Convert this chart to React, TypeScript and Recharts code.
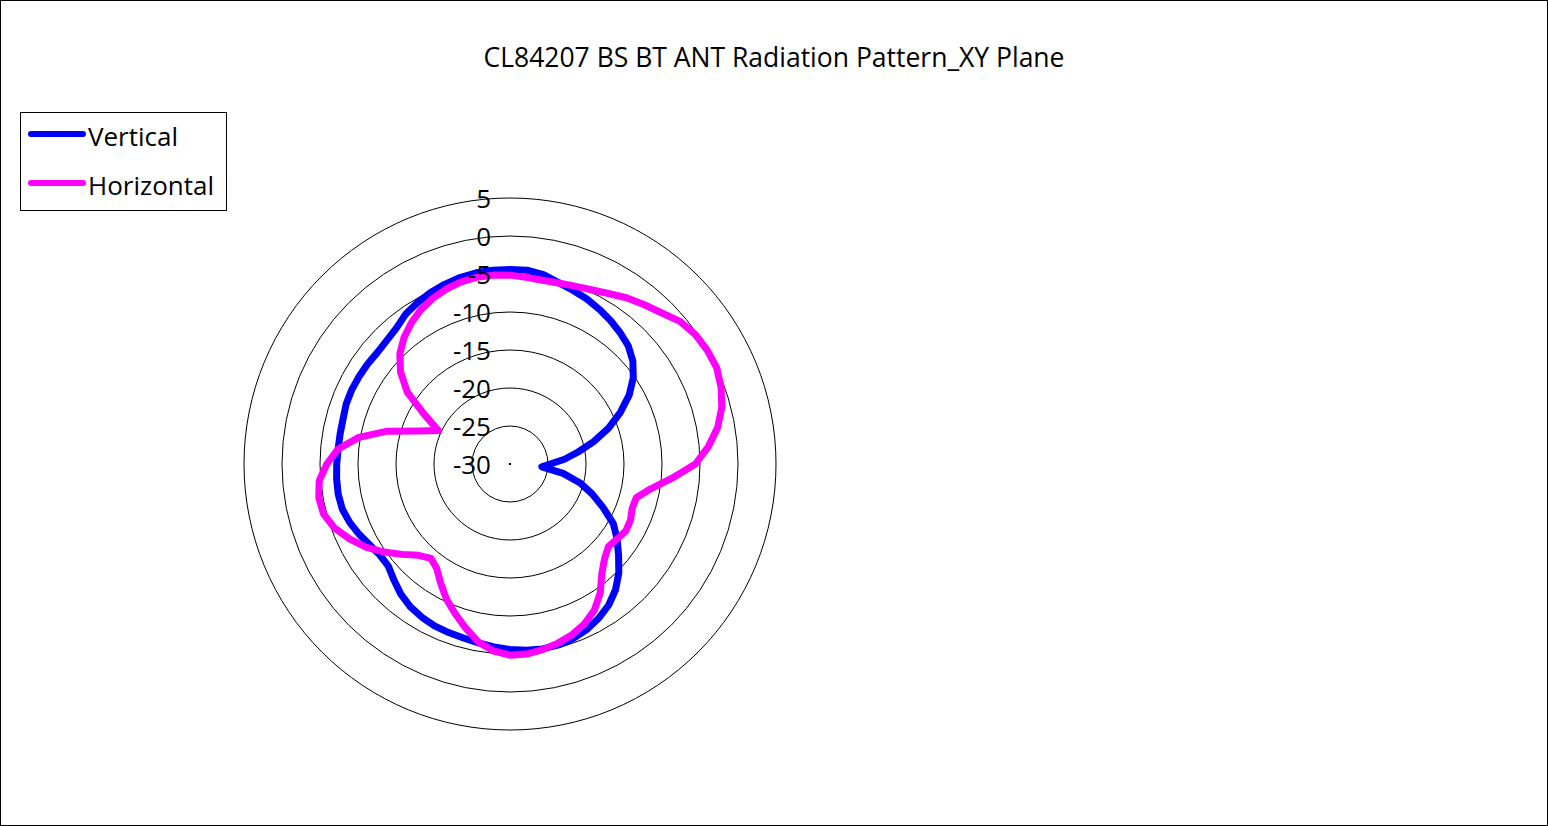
import { RadarChart, Radar, PolarGrid, PolarAngleAxis, PolarRadiusAxis, Legend, Customized } from "recharts";

const FONT = "'Open Sans', 'Noto Sans', sans-serif";

// measurement angle in degrees, clockwise from the top
const angles = [
  0, 5, 10, 15, 20, 25, 30, 35, 40, 45, 50, 55,
  60, 65, 70, 75, 80, 85, 90, 95, 100, 105, 110, 115,
  120, 125, 130, 135, 140, 145, 150, 155, 160, 165, 170, 175,
  180, 185, 190, 195, 200, 205, 210, 215, 220, 225, 230, 235,
  240, 245, 250, 255, 260, 265, 270, 275, 280, 285, 290, 295,
  300, 305, 310, 315, 320, 325, 330, 335, 340, 345, 350, 355,
];

// gain in dB
const vertical = [
  -4.4, -4.4, -4.7, -5.3, -5.7, -6.05, -6.5, -6.95, -7.45, -8.0, -8.9, -10.2,
  -11.9, -14.0, -16.2, -18.6, -20.9, -22.8, -24.7, -25.8, -22.9, -20.5, -18.5, -16.5,
  -14.3, -12.8, -11.35, -9.75, -8.4, -7.35, -6.6, -6.0, -5.6, -5.35, -5.3, -5.4,
  -5.6, -5.85, -6.1, -6.3, -6.4, -6.5, -6.75, -7.1, -7.65, -8.4, -9.1, -9.1,
  -8.7, -8.1, -7.55, -7.15, -7.05, -7.1, -7.2, -7.3, -7.3, -7.25, -7.05, -7.0,
  -7.05, -7.1, -7.2, -7.05, -6.7, -6.0, -5.55, -5.15, -4.85, -4.6, -4.45, -4.4,
];

const horizontal = [
  -5.15, -5.35, -5.45, -5.35, -5.1, -4.7, -4.1, -3.3, -2.6, -1.85, -0.8, -0.25,
  -0.05, 0.0, -0.45, -1.15, -2.25, -3.8, -5.6, -8.6, -11.2, -12.8, -12.9, -12.5,
  -12.4, -12.8, -13.1, -12.4, -11.2, -9.3, -7.8, -6.8, -6.1, -5.6, -5.2, -4.9,
  -4.85, -5.3, -6.2, -7.6, -9.0, -10.3, -11.8, -13.2, -13.8, -13.0, -11.5, -9.8,
  -8.1, -6.7, -5.4, -4.6, -4.45, -4.8, -5.9, -7.3, -9.8, -13.3, -17.3, -19.6,
  -17.0, -13.5, -11.2, -9.5, -8.3, -7.35, -6.55, -5.95, -5.5, -5.2, -5.05, -5.05,
];

const radiusTicks = [-30, -25, -20, -15, -10, -5, 0, 5];
const seriesOrder = ["Vertical", "Horizontal"];

const data = angles.map((angle, i) => ({
  angle,
  vertical: vertical[i],
  horizontal: horizontal[i],
}));

function RadiusTick(props: any) {
  const { x, y, payload } = props;
  return (
    <text
      x={x - 19}
      y={y}
      textAnchor="end"
      dominantBaseline="central"
      fontSize={26}
      fontFamily={FONT}
      fill="#000"
    >
      {payload.value}
    </text>
  );
}

function LegendBox(props: any) {
  const items = [...(props.payload || [])].sort(
    (a: any, b: any) => seriesOrder.indexOf(a.value) - seriesOrder.indexOf(b.value)
  );
  return (
    <div style={{ marginTop: -2 }}>
      {items.map((entry: any) => (
        <div
          key={entry.value}
          style={{ display: "flex", alignItems: "center", height: 49, fontFamily: FONT, fontSize: 26, color: "#000" }}
        >
          <svg width={62} height={10} style={{ marginLeft: 5, marginRight: 0, marginTop: -4 }}>
            <line x1={5} y1={5} x2={57} y2={5} stroke={entry.color} strokeWidth={6} strokeLinecap="round" />
          </svg>
          <span>{entry.value}</span>
        </div>
      ))}
    </div>
  );
}

// small black mark at the pole, as in the original
function CenterDot(props: any) {
  const { cx, cy } = props;
  if (typeof cx !== "number" || typeof cy !== "number") return null;
  return <rect x={cx - 1} y={cy - 1} width={2} height={2} fill="#000" />;
}

export default function App() {
  return (
    <div style={{ position: "absolute", left: 0, top: 0, width: 1548, height: 826, background: "#fff" }}>
      <RadarChart width={1548} height={826} cx={510} cy={464} outerRadius={266} data={data} margin={{ top: 0, right: 0, bottom: 0, left: 0 }}>
        <PolarGrid gridType="circle" radialLines={false} stroke="#000" strokeWidth={1} />
        <PolarAngleAxis dataKey="angle" tick={false} tickLine={false} axisLine={false} />
        <PolarRadiusAxis
          angle={90}
          type="number"
          domain={[-30, 5]}
          ticks={radiusTicks as any}
          tickCount={8}
          axisLine={false}
          tickLine={false}
          tick={<RadiusTick />}
          allowDataOverflow
        />
        <Customized component={(p: any) => <CenterDot cx={510} cy={464} {...p} />} />
        <Radar
          name="Vertical"
          dataKey="vertical"
          stroke="#0000FF"
          strokeWidth={7}
          strokeLinejoin="round"
          fill="none"
          fillOpacity={0}
          dot={false}
          isAnimationActive={false}
        />
        <Radar
          name="Horizontal"
          dataKey="horizontal"
          stroke="#FF00FF"
          strokeWidth={7}
          strokeLinejoin="round"
          fill="none"
          fillOpacity={0}
          dot={false}
          isAnimationActive={false}
        />
        <Legend
          content={<LegendBox />}
          wrapperStyle={{
            position: "absolute",
            left: 20,
            top: 112,
            width: 207,
            height: 99,
            border: "1px solid #000",
            boxSizing: "border-box",
            background: "#fff",
          }}
        />
      </RadarChart>
      <div
        style={{
          position: "absolute",
          left: 0,
          top: 42,
          width: 1548,
          textAlign: "center",
          fontFamily: FONT,
          fontSize: 26.5,
          lineHeight: "30px",
          color: "#000",
        }}
      >
        CL84207 BS BT ANT Radiation Pattern_XY Plane
      </div>
      <div
        style={{
          position: "absolute",
          left: 0,
          top: 0,
          width: 1548,
          height: 826,
          border: "1px solid #000",
          boxSizing: "border-box",
          pointerEvents: "none",
        }}
      />
    </div>
  );
}
